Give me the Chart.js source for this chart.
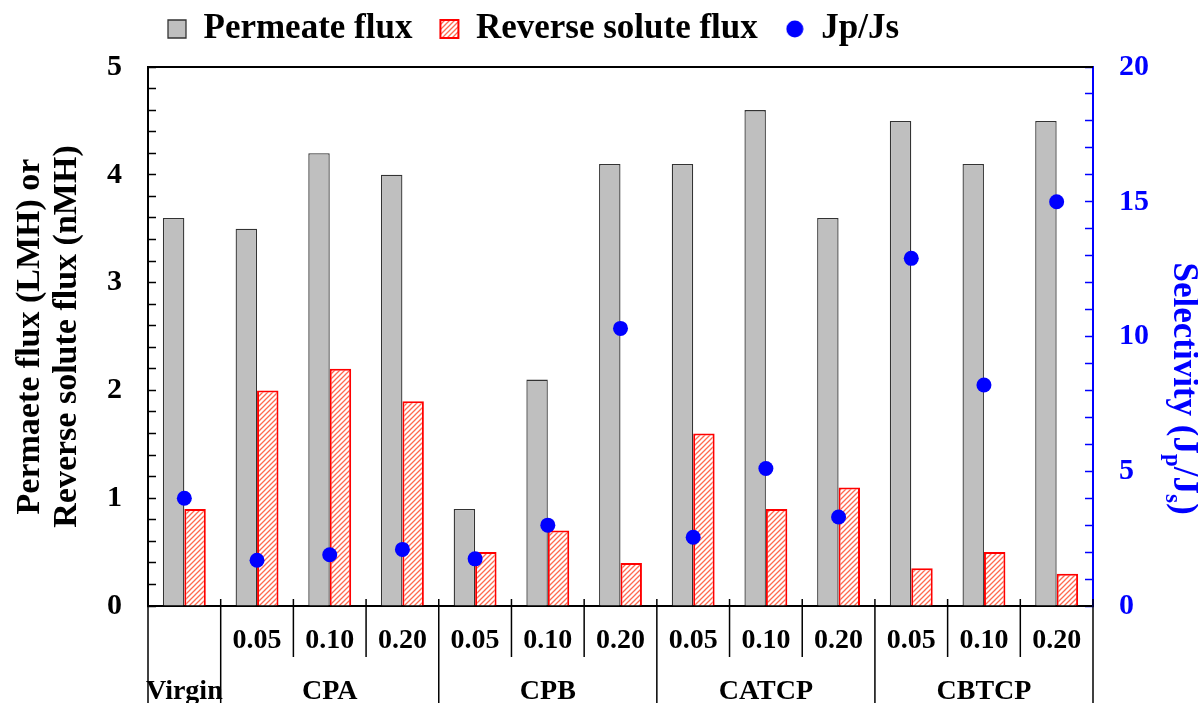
<!DOCTYPE html>
<html>
<head>
<meta charset="utf-8">
<script src="https://cdn.jsdelivr.net/npm/chart.js@4.4.1/dist/chart.umd.min.js"></script>
<style>
  html, body { margin: 0; padding: 0; background: #fff; }
  canvas { display: block; }
</style>
</head>
<body>
<canvas id="chart" width="1198" height="703"></canvas>
<script>
const groups = ['Virgin', 'CPA', 'CPB', 'CATCP', 'CBTCP'];
const groupSizes = [1, 3, 3, 3, 3];
const loadings = ['', '0.05', '0.10', '0.20', '0.05', '0.10', '0.20', '0.05', '0.10', '0.20', '0.05', '0.10', '0.20'];

const permeateFlux = [3.6, 3.5, 4.2, 4.0, 0.9, 2.1, 4.1, 4.1, 4.6, 3.6, 4.5, 4.1, 4.5];
const reverseSoluteFlux = [0.9, 2.0, 2.2, 1.9, 0.5, 0.7, 0.4, 1.6, 0.9, 1.1, 0.35, 0.5, 0.3];
const selectivity = [4.0, 1.7, 1.9, 2.1, 1.75, 3.0, 10.3, 2.55, 5.1, 3.3, 12.9, 8.2, 15.0];

const seriesNames = ['Permeate flux', 'Reverse solute flux', 'Jp/Js'];

// category labels like "CPA 0.05"
const categories = [];
groups.forEach((g, gi) => {
    for (let k = 0; k < groupSizes[gi]; k++) {
        const idx = categories.length;
        categories.push(loadings[idx] ? g + ' ' + loadings[idx] : g);
    }
});

const serif = '"Liberation Serif", "Times New Roman", serif';
const blue = '#0000FF';

const canvas = document.getElementById('chart');
const ctx = canvas.getContext('2d');

// red diagonal hatch
function makeHatch() {
    const c = document.createElement('canvas');
    c.width = 5; c.height = 5;
    const g = c.getContext('2d');
    g.fillStyle = '#ffffff';
    g.fillRect(0, 0, 5, 5);
    g.strokeStyle = '#FF6A50';
    g.lineWidth = 1.3;
    g.beginPath();
    g.moveTo(-1, 6); g.lineTo(6, -1);
    g.moveTo(-3.5, 3.5); g.lineTo(3.5, -3.5);
    g.moveTo(1.5, 8.5); g.lineTo(8.5, 1.5);
    g.stroke();
    return ctx.createPattern(c, 'repeat');
}
const hatch = makeHatch();

// legend dot, smaller than the legend box
const dotImg = document.createElement('canvas');
dotImg.width = 18; dotImg.height = 18;
(function () {
    const g = dotImg.getContext('2d');
    g.fillStyle = blue;
    g.beginPath();
    g.arc(9, 9, 8.5, 0, Math.PI * 2);
    g.fill();
})();

// legend placement tweaks
const legendTweak = {
    id: 'legendTweak',
    afterInit(chart) {
        const lg = chart.legend;
        const fit = lg.fit.bind(lg);
        lg.fit = function () { fit(); this.height = 67; };
    },
    afterLayout(chart) {
        const lg = chart.legend;
        const pad = lg.options.labels.padding;
        const size = lg.options.labels.font.size;
        const cur = (lg.left + pad + lg.right - lg.lineWidths[0]) / 2;
        const dx = 168 - cur;
        lg.left += dx;
        lg.right += dx;
        lg.top = 29 - size / 2 - pad;
    }
};

// frame top line, category table under the axis, right title
const decorations = {
    id: 'decorations',
    afterDraw(chart) {
        const { ctx, chartArea } = chart;
        const xs = chart.scales.x;
        const h = chart.height;
        ctx.save();

        // top frame line
        ctx.strokeStyle = '#000';
        ctx.lineWidth = 2;
        ctx.beginPath();
        ctx.moveTo(chartArea.left, chartArea.top);
        ctx.lineTo(chartArea.right, chartArea.top);
        ctx.stroke();

        // separators
        const edge = i => xs.getPixelForValue(i - 0.5);
        const groupEdges = [0];
        groupSizes.forEach(s => groupEdges.push(groupEdges[groupEdges.length - 1] + s));
        ctx.lineWidth = 1.5;
        for (let i = 0; i <= categories.length; i++) {
            let x = edge(i);
            if (i === 0) x = chartArea.left;
            if (i === categories.length) x = chartArea.right;
            const full = groupEdges.includes(i);
            ctx.beginPath();
            ctx.moveTo(x, chartArea.bottom - 7);
            ctx.lineTo(x, full ? h : chartArea.bottom + 51);
            ctx.stroke();
        }

        // loading labels
        ctx.fillStyle = '#000';
        ctx.font = 'bold 28px ' + serif;
        ctx.textAlign = 'center';
        ctx.textBaseline = 'middle';
        loadings.forEach((t, i) => {
            if (t) ctx.fillText(t, xs.getPixelForValue(i), chartArea.bottom + 35);
        });
        // group labels
        groups.forEach((g, gi) => {
            const x0 = edge(groupEdges[gi]);
            const x1 = edge(groupEdges[gi + 1]);
            ctx.fillText(g, (x0 + x1) / 2, chartArea.bottom + 86);
        });

        // right axis title with subscripts
        const parts = [['Selectivity (J', false], ['p', true], ['/J', false], ['s', true], [')', false]];
        const mainFont = 'bold 35px ' + serif;
        const subFont = 'bold 23px ' + serif;
        let total = 0;
        parts.forEach(p => { ctx.font = p[1] ? subFont : mainFont; total += ctx.measureText(p[0]).width; });
        ctx.translate(1185, (chartArea.top + chartArea.bottom) / 2 + 52);
        ctx.rotate(Math.PI / 2);
        ctx.fillStyle = blue;
        ctx.textAlign = 'left';
        ctx.textBaseline = 'alphabetic';
        let tx = -total / 2;
        parts.forEach(p => {
            ctx.font = p[1] ? subFont : mainFont;
            ctx.fillText(p[0], tx, p[1] ? 19 : 11);
            tx += ctx.measureText(p[0]).width;
        });
        ctx.restore();
    }
};

const isWhole = v => Math.abs(v - Math.round(v)) < 1e-6;

new Chart(ctx, {
    type: 'bar',
    data: {
        labels: categories,
        datasets: [
            {
                label: seriesNames[0],
                data: permeateFlux,
                backgroundColor: '#BFBFBF',
                borderColor: '#333333',
                borderWidth: 1.3,
                borderSkipped: 'bottom',
                yAxisID: 'y',
                order: 1,
                categoryPercentage: 0.59,
                barPercentage: 1
            },
            {
                label: seriesNames[1],
                data: reverseSoluteFlux,
                backgroundColor: hatch,
                borderColor: '#FF0000',
                borderWidth: 2,
                borderSkipped: 'bottom',
                yAxisID: 'y',
                order: 1,
                categoryPercentage: 0.59,
                barPercentage: 1
            },
            {
                type: 'line',
                label: seriesNames[2],
                data: selectivity,
                showLine: false,
                pointStyle: 'circle',
                pointRadius: 7.5,
                pointHoverRadius: 7.5,
                pointBackgroundColor: blue,
                pointBorderWidth: 0,
                backgroundColor: blue,
                borderColor: blue,
                yAxisID: 'y1',
                order: 0
            }
        ]
    },
    options: {
        responsive: false,
        animation: false,
        layout: { padding: 0 },
        plugins: {
            tooltip: { enabled: false },
            legend: {
                position: 'top',
                labels: {
                    usePointStyle: true,
                    boxWidth: 18,
                    boxHeight: 18,
                    padding: 28,
                    color: '#000',
                    font: { family: serif, size: 35, weight: 'bold' },
                    sort: (a, b) => a.datasetIndex - b.datasetIndex,
                    generateLabels(chart) {
                        const items = Chart.defaults.plugins.legend.labels.generateLabels(chart);
                        items.forEach(it => {
                            it.pointStyle = it.datasetIndex === 2 ? dotImg : 'rect';
                        });
                        return items;
                    }
                }
            }
        },
        scales: {
            x: {
                type: 'category',
                grid: { display: false },
                border: { display: true, color: '#000', width: 2 },
                ticks: { display: false },
                afterFit(scale) { scale.height = 97; }
            },
            y: {
                position: 'left',
                min: 0,
                max: 5,
                border: { display: true, color: '#000', width: 2 },
                grid: {
                    drawOnChartArea: false,
                    drawTicks: true,
                    tickLength: -8,
                    tickColor: '#000',
                    tickWidth: 1.5
                },
                ticks: {
                    stepSize: 0.2,
                    autoSkip: false,
                    padding: 34,
                    color: '#000',
                    font: { family: serif, size: 30, weight: 'bold' },
                    callback: v => (isWhole(v) ? String(Math.round(v)) : '')
                },
                title: {
                    display: true,
                    text: ['Permaete flux (LMH) or', 'Reverse solute flux (nMH)'],
                    color: '#000',
                    font: { family: serif, size: 34, weight: 'bold', lineHeight: 1.09 },
                    padding: { top: 12, bottom: 0 }
                },
                afterFit(scale) { scale.width = 148; }
            },
            y1: {
                position: 'right',
                min: 0,
                max: 20,
                border: { display: true, color: blue, width: 2 },
                grid: {
                    drawOnChartArea: false,
                    drawTicks: true,
                    tickLength: -8,
                    tickColor: blue,
                    tickWidth: 1.5
                },
                ticks: {
                    stepSize: 1,
                    autoSkip: false,
                    padding: 34,
                    color: blue,
                    font: { family: serif, size: 30, weight: 'bold' },
                    callback: v => (v % 5 === 0 ? String(v) : '')
                },
                afterFit(scale) { scale.width = 105; }
            }
        }
    },
    plugins: [legendTweak, decorations]
});
</script>
</body>
</html>
